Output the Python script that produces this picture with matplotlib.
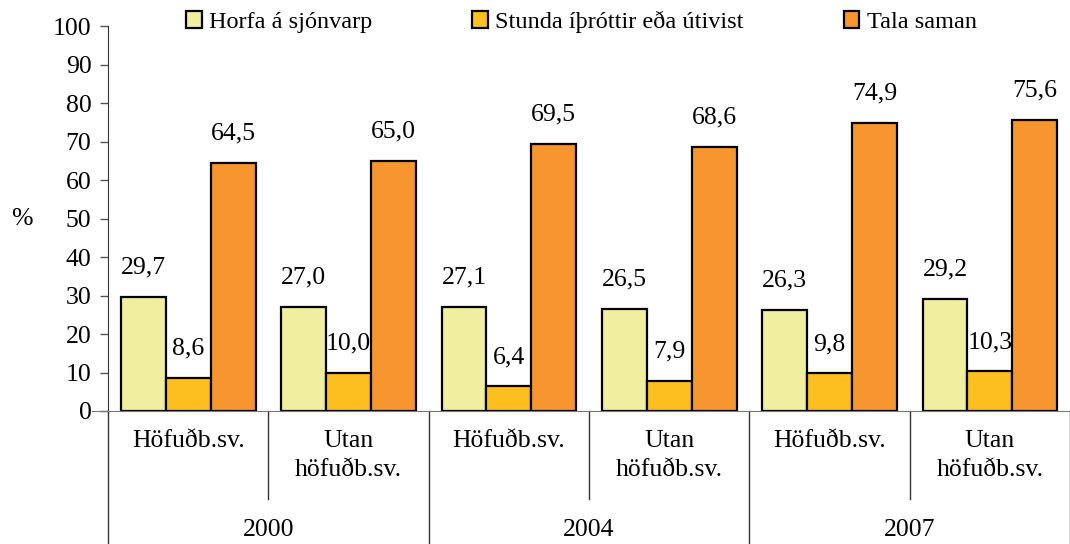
import matplotlib
matplotlib.use('Agg')
import matplotlib.pyplot as plt
import numpy as np

plt.rcParams['font.family'] = ['Liberation Serif', 'DejaVu Serif']
plt.rcParams['font.size'] = 18.5

years = ['2000', '2004', '2007']
areas = ['Höfuðb.sv.', 'Utan\nhöfuðb.sv.']
series = ['Horfa á sjónvarp', 'Stunda íþróttir eða útivist', 'Tala saman']
tv = [29.7, 27.0, 27.1, 26.5, 26.3, 29.2]
sport = [8.6, 10.0, 6.4, 7.9, 9.8, 10.3]
talk = [64.5, 65.0, 69.5, 68.6, 74.9, 75.6]
colors = ['#EFEF9F', '#FDBF20', '#F7962F']

fig = plt.figure(figsize=(10.7, 5.44), dpi=100)
ax = fig.add_axes([0.101, 0.2445, 0.899, 0.7075])

x = np.arange(len(tv))
w = 0.28
for i, (vals, c, name) in enumerate(zip([tv, sport, talk], colors, series)):
    pos = x + (i - 1) * w
    ax.bar(pos, vals, width=w, color=c, edgecolor='black', linewidth=1.6, label=name, zorder=2)
    for p, v in zip(pos, vals):
        ax.annotate(f'{v:.1f}'.replace('.', ','), (p, v), xytext=(0, 21),
                    textcoords='offset points', ha='center', va='center', zorder=4)

ax.set_xlim(-0.5, len(tv) - 0.5)
ax.set_ylim(0, 100)
ax.set_yticks(range(0, 101, 10))
ax.tick_params(axis='y', direction='out', length=6, width=1, color='#555555', pad=6)
ax.set_xticks([])
for s in ['top', 'right']:
    ax.spines[s].set_visible(False)
ax.spines['left'].set_color('#333333')
ax.spines['bottom'].set_color('#777777')
ax.spines['bottom'].set_bounds(-0.6, len(tv) - 0.5)
ax.spines['bottom'].set_position(('data', 0))
ax.text(-0.09, 0.5, '%', transform=ax.transAxes, ha='center', va='center')

# category separators and labels
trans = ax.get_xaxis_transform()
for b in np.arange(-0.5, len(tv), 1.0):
    k = int(b + 0.5)
    bottom = -0.35 if k % 2 == 0 else -0.229
    ax.plot([b, b], [0, bottom], color='#333333', lw=1, transform=trans, clip_on=False)
for i in range(len(tv)):
    ax.text(i, -0.05, areas[i % 2], transform=trans, ha='center', va='top', linespacing=1.4)
for j, yr in enumerate(years):
    ax.text(2 * j + 0.5, -0.309, yr, transform=trans, ha='center', va='center')

fig.legend(loc='upper left', bbox_to_anchor=(0.165, 0.998), ncol=3, frameon=False,
           fontsize=17.5, handlelength=0.65, handleheight=0.65, handletextpad=0.3,
           columnspacing=4.1, borderaxespad=0)

plt.savefig('out.png', dpi=100)
plt.close()
